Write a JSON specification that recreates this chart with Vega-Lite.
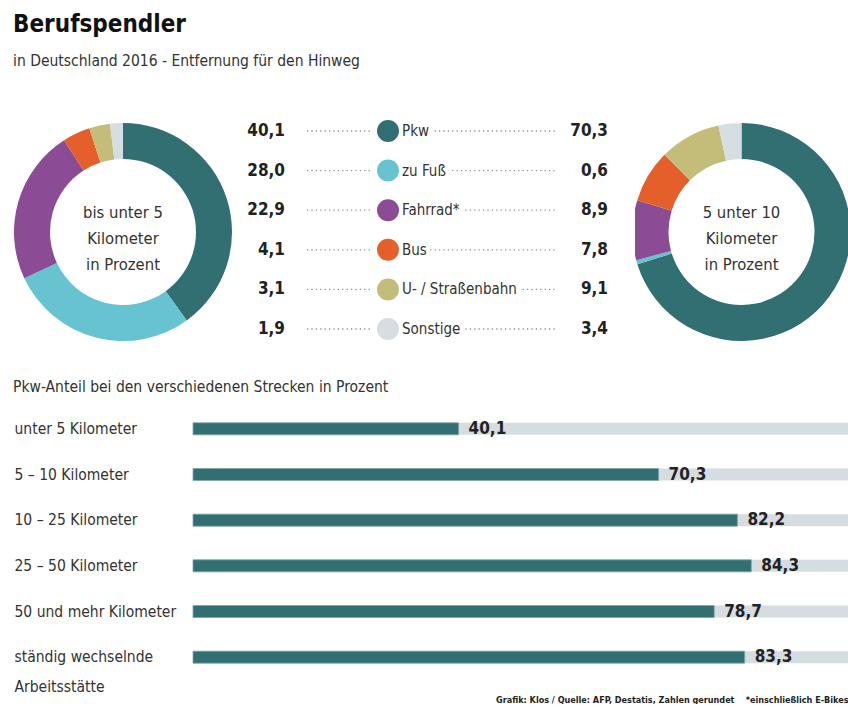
{
  "$schema": "https://vega.github.io/schema/vega-lite/v6.json",
  "padding": {"left": 13, "top": 13, "right": 0, "bottom": 0},
  "background": "white",
  "config": {
    "view": {"stroke": null},
    "font": "DejaVu Sans Condensed, Roboto, sans-serif",
    "axis": {"grid": false},
    "locale": {"number": {"decimal": ",", "thousands": ".", "grouping": [3], "currency": ["", " €"]}}
  },
  "datasets": {
    "modes": [
      {"Verkehrsmittel": "Pkw", "Rang": 1, "bis5": 40.1, "bis10": 70.3},
      {"Verkehrsmittel": "zu Fuß", "Rang": 2, "bis5": 28.0, "bis10": 0.6},
      {"Verkehrsmittel": "Fahrrad*", "Rang": 3, "bis5": 22.9, "bis10": 8.9},
      {"Verkehrsmittel": "Bus", "Rang": 4, "bis5": 4.1, "bis10": 7.8},
      {"Verkehrsmittel": "U- / Straßenbahn", "Rang": 5, "bis5": 3.1, "bis10": 9.1},
      {"Verkehrsmittel": "Sonstige", "Rang": 6, "bis5": 1.9, "bis10": 3.4}
    ],
    "strecken": [
      {"Strecke": "unter 5 Kilometer", "Pkw": 40.1},
      {"Strecke": "5 – 10 Kilometer", "Pkw": 70.3},
      {"Strecke": "10 – 25 Kilometer", "Pkw": 82.2},
      {"Strecke": "25 – 50 Kilometer", "Pkw": 84.3},
      {"Strecke": "50 und mehr Kilometer", "Pkw": 78.7},
      {"Strecke": "ständig wechselnde Arbeitsstätte", "Pkw": 83.3}
    ]
  },
  "title": {
    "text": "Berufspendler",
    "subtitle": "in Deutschland 2016 - Entfernung für den Hinweg",
    "anchor": "start",
    "fontSize": 24,
    "fontWeight": "bold",
    "color": "#111111",
    "subtitleFontSize": 15.5,
    "subtitleColor": "#333333",
    "subtitlePadding": 17,
    "offset": 46
  },
  "spacing": 34,
  "vconcat": [
    {
      "spacing": 0,
      "hconcat": [
        {
          "width": 220,
          "height": 220,
          "data": {"name": "modes"},
          "layer": [
            {
              "mark": {"type": "arc", "outerRadius": 109, "innerRadius": 73},
              "encoding": {
                "theta": {"field": "bis5", "type": "quantitative", "stack": true},
                "order": {"field": "Rang", "type": "quantitative"},
                "color": {
                  "field": "Verkehrsmittel", "type": "nominal", "legend": null,
                  "scale": {
                    "domain": ["Pkw", "zu Fuß", "Fahrrad*", "Bus", "U- / Straßenbahn", "Sonstige"],
                    "range": ["#316f73", "#67c3cf", "#8b4b95", "#e55f2a", "#c3bd79", "#d6dee1"]
                  }
                }
              }
            },
            {
              "data": {"values": [{"Beschriftung": "bis unter 5 Kilometer in Prozent"}]},
              "mark": {"type": "text", "text": ["bis unter 5", "Kilometer", "in Prozent"], "fontSize": 16.5, "lineHeight": 26, "color": "#333333", "dy": -19}
            }
          ]
        },
        {
          "width": 402,
          "height": 216,
          "data": {"name": "modes"},
          "encoding": {
            "y": {"field": "Verkehrsmittel", "type": "nominal", "sort": {"field": "Rang"}, "scale": {"type": "point", "padding": 0.227}, "axis": null}
          },
          "layer": [
            {
              "mark": {"type": "rule", "strokeDash": [1.2, 3.2], "strokeWidth": 1.3, "color": "#8a8a8a"},
              "encoding": {"x": {"value": 74}, "x2": {"value": 324}}
            },
            {
              "mark": {"type": "point", "filled": true, "color": "white", "size": 900, "opacity": 1},
              "encoding": {"x": {"value": 155}}
            },
            {
              "mark": {"type": "point", "filled": true, "size": 484, "opacity": 1},
              "encoding": {
                "x": {"value": 155},
                "color": {
                  "field": "Verkehrsmittel", "type": "nominal", "legend": null,
                  "scale": {
                    "domain": ["Pkw", "zu Fuß", "Fahrrad*", "Bus", "U- / Straßenbahn", "Sonstige"],
                    "range": ["#316f73", "#67c3cf", "#8b4b95", "#e55f2a", "#c3bd79", "#d6dee1"]
                  }
                }
              }
            },
            {
              "mark": {"type": "text", "align": "left", "baseline": "middle", "fontSize": 15, "fill": "white", "stroke": "white", "strokeWidth": 8, "strokeJoin": "round"},
              "encoding": {"x": {"value": 169}, "text": {"field": "Verkehrsmittel"}}
            },
            {
              "mark": {"type": "text", "align": "left", "baseline": "middle", "fontSize": 15, "color": "#333333"},
              "encoding": {"x": {"value": 169}, "text": {"field": "Verkehrsmittel"}}
            },
            {
              "mark": {"type": "text", "align": "right", "baseline": "middle", "fontSize": 17, "fontWeight": "bold", "color": "#222222"},
              "encoding": {"x": {"value": 52}, "text": {"field": "bis5", "type": "quantitative", "format": ".1f"}}
            },
            {
              "mark": {"type": "text", "align": "right", "baseline": "middle", "fontSize": 17, "fontWeight": "bold", "color": "#222222"},
              "encoding": {"x": {"value": 375}, "text": {"field": "bis10", "type": "quantitative", "format": ".1f"}}
            }
          ]
        },
        {
          "width": 213,
          "height": 220,
          "data": {"name": "modes"},
          "layer": [
            {
              "mark": {"type": "arc", "outerRadius": 109, "innerRadius": 73, "clip": true},
              "encoding": {
                "theta": {"field": "bis10", "type": "quantitative", "stack": true},
                "order": {"field": "Rang", "type": "quantitative"},
                "color": {
                  "field": "Verkehrsmittel", "type": "nominal", "legend": null,
                  "scale": {
                    "domain": ["Pkw", "zu Fuß", "Fahrrad*", "Bus", "U- / Straßenbahn", "Sonstige"],
                    "range": ["#316f73", "#67c3cf", "#8b4b95", "#e55f2a", "#c3bd79", "#d6dee1"]
                  }
                }
              }
            },
            {
              "data": {"values": [{"Beschriftung": "5 unter 10 Kilometer in Prozent"}]},
              "mark": {"type": "text", "text": ["5 unter 10", "Kilometer", "in Prozent"], "fontSize": 16.5, "lineHeight": 26, "color": "#333333", "dy": -19}
            }
          ]
        }
      ]
    },
    {
      "width": 835,
      "height": 274,
      "title": {"text": "Pkw-Anteil bei den verschiedenen Strecken in Prozent", "anchor": "start", "fontSize": 15.5, "fontWeight": "normal", "color": "#333333", "offset": 11},
      "data": {"name": "strecken"},
      "encoding": {
        "y": {
          "field": "Strecke", "type": "nominal", "sort": null,
          "scale": {"paddingInner": 0, "paddingOuter": 0},
          "axis": {
            "title": null, "ticks": false, "domain": false,
            "labelAlign": "left", "labelBaseline": "middle", "labelPadding": -1, "labelLimit": 300,
            "labelFontSize": 15.5, "labelColor": "#333333", "labelLineHeight": 30,
            "labelExpr": "datum.label == 'ständig wechselnde Arbeitsstätte' ? ['ständig wechselnde', 'Arbeitsstätte'] : datum.label"
          }
        }
      },
      "layer": [
        {
          "mark": {"type": "bar", "size": 12, "color": "#d6dde0", "clip": true},
          "encoding": {
            "x": {
              "datum": 100, "type": "quantitative",
              "scale": {"domain": [0, 98.9], "nice": false, "range": [180, 835]},
              "axis": {
                "title": "Grafik: Klos / Quelle: AFP, Destatis, Zahlen gerundet\u00a0\u00a0\u00a0\u00a0*einschließlich E-Bikes",
                "labels": false, "ticks": false, "domain": false, "grid": false,
                "titleAnchor": "end", "titleFontSize": 9, "titleFontWeight": "bold", "titleColor": "#222222", "titlePadding": 15
              }
            }
          }
        },
        {
          "mark": {"type": "bar", "size": 12, "color": "#316f73", "stroke": "#7fa6a8", "strokeWidth": 0.8},
          "encoding": {"x": {"field": "Pkw", "type": "quantitative", "scale": {"domain": [0, 98.9], "nice": false, "range": [180, 835]}}}
        },
        {
          "mark": {"type": "text", "align": "left", "baseline": "middle", "dx": 10, "fontSize": 17, "fontWeight": "bold", "color": "#222222"},
          "encoding": {
            "x": {"field": "Pkw", "type": "quantitative", "scale": {"domain": [0, 98.9], "nice": false, "range": [180, 835]}},
            "text": {"field": "Pkw", "type": "quantitative", "format": ".1f"}
          }
        }
      ]
    }
  ]
}
